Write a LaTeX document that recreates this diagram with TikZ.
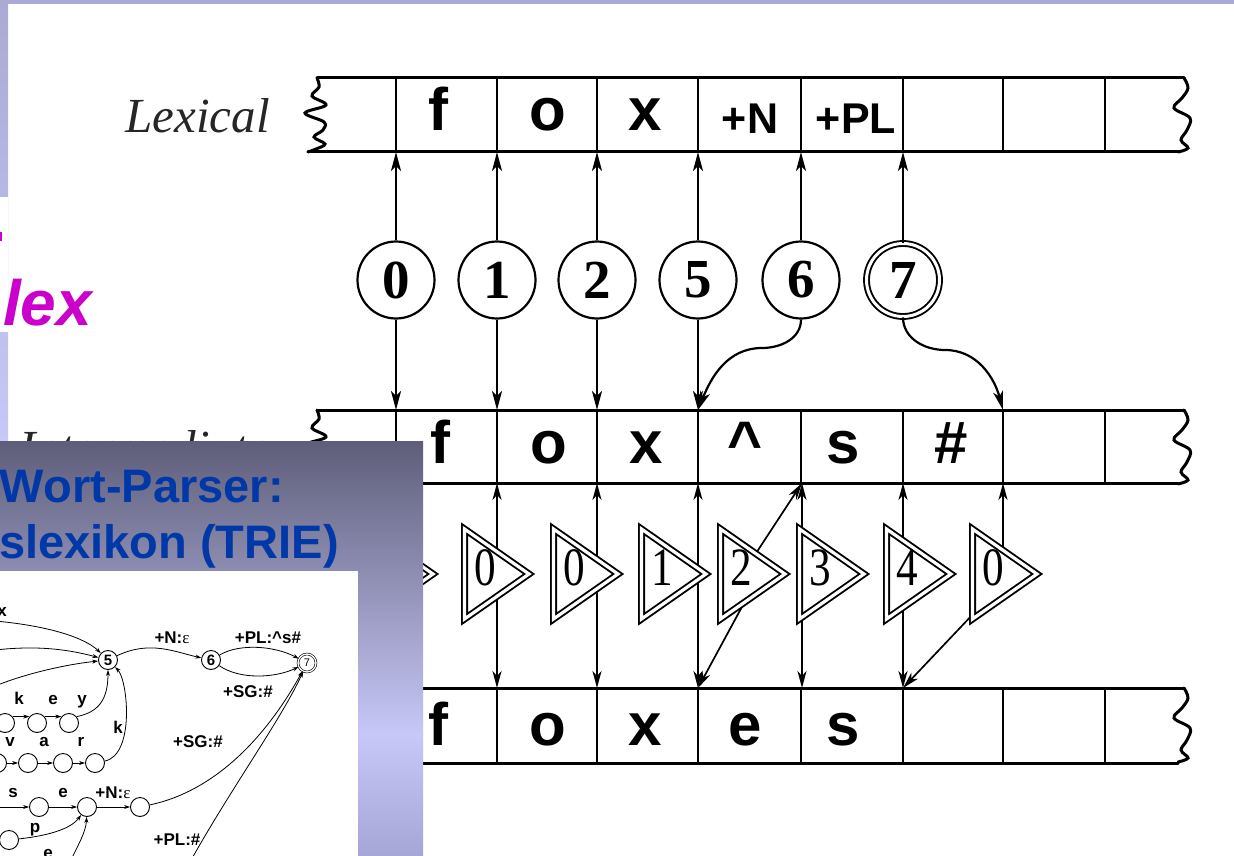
\documentclass[tikz,border=0pt]{standalone}
\usepackage{graphicx}
\usepackage{fontspec}
\setmainfont{Liberation Serif}
\setsansfont{Liberation Sans}
\usetikzlibrary{arrows.meta}
\definecolor{lavtop}{RGB}{170,170,212}
\definecolor{lavlight}{RGB}{200,200,248}
\definecolor{boxtop}{RGB}{94,94,122}
\definecolor{boxbot}{RGB}{166,166,214}
\definecolor{titleblue}{RGB}{0,56,168}
\definecolor{lexc}{RGB}{204,0,204}
\newcommand\narrowdig[1]{\scalebox{0.8}[1]{#1}}
\begin{document}
\begin{tikzpicture}[x=1pt,y=-1pt,
  tape/.style={line width=3pt,line cap=round},
  div/.style={line width=2.5pt},
  arr/.style={line width=2.2pt,-{Stealth[length=19pt,width=10pt,inset=5pt]}},
  tarr/.style={line width=1.7pt,-{Stealth[length=17pt,width=9pt,inset=5pt]}},
  st/.style={circle,draw,line width=2.2pt,minimum size=77pt,inner sep=0pt,fill=white,
    font=\fontsize{55}{55}\selectfont\bfseries},
  tri/.style={draw=black,line width=1.9pt,double=white,double distance=3.2pt,fill=white,line join=miter},
  tdig/.style={inner sep=0pt,font=\fontsize{54}{54}\selectfont},
  big/.style={inner sep=0pt,anchor=base,font=\fontsize{60}{60}\selectfont\sffamily\bfseries},
  mid/.style={inner sep=0pt,anchor=base,font=\fontsize{43}{43}\selectfont\sffamily\bfseries},
  tlab/.style={inner sep=0pt,anchor=base east,font=\fontsize{49}{49}\selectfont\itshape,text=black!85},
  tst/.style={circle,draw,line width=0.9pt,minimum size=19pt,inner sep=0pt,fill=white,
    font=\fontsize{15}{15}\selectfont\sffamily\bfseries},
  tl/.style={inner sep=0pt,font=\fontsize{17}{17}\selectfont\sffamily\bfseries},
  tar/.style={line width=0.8pt,-{Stealth[length=6pt,width=4pt]}}
]
\useasboundingbox (0,0) rectangle (1234,856);
\fill[white] (0,0) rectangle (1234,856);
% frame strips
\fill[lavtop] (0,0) rectangle (1234,4);
\shade[top color=lavtop,bottom color=lavlight] (0,0) rectangle (8,442);
\fill[white] (0,197) rectangle (8,332);
\fill[lexc] (0,232) rectangle (2,241);
\node[inner sep=0pt,anchor=base west,text=lexc,font=\fontsize{64}{64}\selectfont\sffamily\bfseries\itshape] (lex) at (3,325) {lex};

% ---- tapes ----
\foreach \t/\b in {78/152, 410/483, 688/763} {
  \draw[tape] (317,\t) -- (1184,\t);
  \draw[tape] (308,\b) -- (1178,\b);
  \foreach \x in {396,497,597,698,801,903,1003,1105} \draw[div] (\x,\t) -- (\x,\b);
  \draw[tape,shift={(317,\t)}] plot[smooth,tension=0.6] coordinates
    {(0,0) (2,9) (-5,18) (9,27) (-12,35) (7,44) (6,52) (-3,59) (8,66) (-1,71) (-9,74)};
  \draw[tape,shift={(1184,\t)}] plot[smooth,tension=0.6] coordinates
    {(0,0) (4,10) (-2,20) (-10,30) (6,40) (3,52) (-3,62) (4,70) (-6,74)};
}
\node[tlab] (lexlab) at (270,132) {Lexical};
\begin{scope}
\clip (0,0) rectangle (1234,441);
\node[tlab] (intlab) at (270,464) {Intermediate};
\end{scope}

% tape contents
\node[big] (l1) at (438,131) {f};
\node[big] (l2) at (548,131) {o};
\node[big] (l3) at (645,131) {x};
\node[mid] (l4) at (750,134) {+N};
\node[mid] (l5) at (856,134) {+PL};
\node[big] (i1) at (440,463) {f};
\node[big] (i2) at (549,463) {o};
\node[big] (i3) at (646,463) {x};
\node[big] (i4) at (745,463) {\textasciicircum};
\node[big] (i5) at (843,463) {s};
\node[big] (i6) at (951,463) {\#};
\node[big] (s1) at (438,745) {f};
\node[big] (s2) at (548,745) {o};
\node[big] (s3) at (645,745) {x};
\node[big] (s4) at (745,745) {e};
\node[big] (s5) at (843,745) {s};

% coordinates on tapes
\foreach \n/\x in {0/396,1/497,2/597,3/698,4/801,5/903,6/1003} {
  \coordinate (LB\n) at (\x,152);
  \coordinate (IT\n) at (\x,410);
  \coordinate (IB\n) at (\x,483);
  \coordinate (ST\n) at (\x,688);
}

% ---- lexicon states ----
\node[st] (c0) at (396,280) {0};
\node[st] (c1) at (497,280) {1};
\node[st] (c2) at (597,280) {2};
\node[st] (c5) at (698,280) {5};
\node[st] (c6) at (801,280) {6};
\node[st,double,double distance=3pt,line width=1.9pt,minimum size=73pt] (c7) at (903,280) {7};

\draw[arr] (c0) -- (LB0);
\draw[arr] (c1) -- (LB1);
\draw[arr] (c2) -- (LB2);
\draw[arr] (c5) -- (LB3);
\draw[arr] (c6) -- (LB4);
\draw[arr] (c7) -- (LB5);
\draw[arr] (c0) -- (IT0);
\draw[arr] (c1) -- (IT1);
\draw[arr] (c2) -- (IT2);
\draw[arr] (c5) -- (IT3);
\draw[arr] (c6.south) to[out=-90,in=0] (762,348) to[out=180,in=68] (IT3);
\draw[arr] (c7.south) to[out=-90,in=180] (945,350) to[out=0,in=105] (IT6);

% ---- rule transducer connectors ----
\coordinate (a1) at (497,574);
\coordinate (a2) at (597,574);
\coordinate (a3) at (698,574);
\coordinate (a4u) at (745,570);
\coordinate (a4d) at (750,592);
\coordinate (a5) at (802,574);
\coordinate (a6) at (903,574);
\coordinate (a7) at (1003,574);
\coordinate (a7d) at (975,612);
\coordinate (IB4b) at (802,483);
\coordinate (ST4b) at (802,688);
\draw[tarr] (a1) -- (IB1);
\draw[tarr] (a1) -- (ST1);
\draw[tarr] (a2) -- (IB2);
\draw[tarr] (a2) -- (ST2);
\draw[tarr] (a3) -- (IB3);
\draw[tarr] (a3) -- (ST3);
\draw[tarr] (a4u) -- (IB4b);
\draw[tarr] (a4d) -- (ST3);
\draw[tarr] (a5) -- (IB4b);
\draw[tarr] (a5) -- (ST4b);
\draw[tarr] (a6) -- (IB5);
\draw[tarr] (a6) -- (ST5);
\draw[tarr] (a7) -- (IB6);
\draw[tarr] (a7d) -- (ST5);

% triangles
\foreach \L/\d/\n in {365/0/t0, 461/0/t1, 550/0/t2, 638/1/t3, 717/2/t4, 796/3/t5, 883/4/t6, 969/0/t7} {
  \draw[tri] (\L+3.5,529) -- (\L+3.5,619) -- (\L+68,574) -- cycle;
  \node[tdig] (\n) at (\L+24,568) {\narrowdig{\d}};
}

% ---- overlay box ----
\shade[top color=boxtop,bottom color=lavlight] (0,441) rectangle (423,735);
\shade[top color=lavlight,bottom color=boxbot] (0,734) rectangle (423,856);
\node[inner sep=0pt,anchor=base east,text=titleblue,font=\fontsize{47}{47}\selectfont\sffamily\bfseries] (title1) at (284,502) {Wort-Parser:};
\node[inner sep=0pt,anchor=base west,text=titleblue,font=\fontsize{47}{47}\selectfont\sffamily\bfseries] (title2) at (-1,558) {slexikon (TRIE)};
\fill[white] (0,571) rectangle (358,856);

% ---- TRIE inset ----
\begin{scope}
\clip (0,571) rectangle (358,856);
\node[tst] (q5) at (108,660) {5};
\node[tst] (q6) at (211,660) {6};
\node[tst,double,double distance=1.3pt,line width=0.6pt,minimum size=18pt,font=\fontsize{11}{11}\selectfont\sffamily] (q7) at (307,663) {7};
\node[tst] (ka) at (5,723) {};
\node[tst] (kb) at (37,723) {};
\node[tst] (kc) at (69,723) {};
\node[tst] (va) at (-3,763) {};
\node[tst] (vb) at (28,763) {};
\node[tst] (vc) at (63,763) {};
\node[tst] (vd) at (95,763) {};
\node[tst] (sb) at (39,807) {};
\node[tst] (sc) at (87,807) {};
\node[tst] (sd) at (140,807) {};
\node[tst] (pp) at (9,840) {};
\coordinate (x1) at (-5,621);
\coordinate (x2) at (-5,650);
\coordinate (x3) at (-5,686);
\coordinate (sa) at (-5,807);
\coordinate (pl0) at (190,862);
\coordinate (e0) at (70,862);

\draw[tar] (x1) .. controls (50,626) and (85,638) .. (q5);
\draw[tar] (x2) .. controls (40,645) and (70,650) .. (q5);
\draw[tar] (x3) .. controls (30,672) and (70,664) .. (q5);
\draw[tar] (ka.40) -- (kb.140);
\draw[tar] (kb.40) -- (kc.140);
\draw[tar] (kc.40) .. controls (100,712) and (108,698) .. (q5);
\draw[tar] (va) -- (vb);
\draw[tar] (vb) -- (vc);
\draw[tar] (vc) -- (vd);
\draw[tar] (vd) .. controls (135,755) and (128,680) .. (q5);
\draw[tar] (q5) .. controls (150,640) and (175,652) .. (q6);
\draw[tar] (q6) .. controls (240,643) and (275,646) .. (q7);
\draw[tar] (q6) .. controls (240,680) and (275,678) .. (q7);
\draw[tar] (sa) -- (sb);
\draw[tar] (sb) -- (sc);
\draw[tar] (sc) -- (sd);
\draw[tar] (sd) .. controls (220,790) and (270,730) .. (q7);
\draw[tar] (pl0) .. controls (230,790) and (282,718) .. (q7);
\draw[tar] (pp) .. controls (45,836) and (70,830) .. (sc);
\draw[tar] (e0) .. controls (78,845) and (86,832) .. (sc);

\node[tl] (lx) at (2,612) {x};
\node[tl] (lk1) at (19,698) {k};
\node[tl] (le1) at (53,700) {e};
\node[tl] (ly) at (82,702) {y};
\node[tl] (lv) at (10,742) {v};
\node[tl] (la) at (44,742) {a};
\node[tl] (lr) at (81,742) {r};
\node[tl] (lk2) at (118,727) {k};
\node[tl] (ln1) at (172,638) {+N:{\rmfamily\mdseries ε}};
\node[tl] (lpl1) at (268,638) {+PL:\textasciicircum s\#};
\node[tl] (lsg1) at (248,692) {+SG:\#};
\node[tl] (lsg2) at (198,742) {+SG:\#};
\node[tl] (ls) at (13,793) {s};
\node[tl] (le2) at (63,793) {e};
\node[tl] (ln2) at (113,793) {+N:{\rmfamily\mdseries ε}};
\node[tl] (lp) at (35,830) {p};
\node[tl] (lpl2) at (177,840) {+PL:\#};
\node[tl] (le3) at (48,854) {e};
\end{scope}
\end{tikzpicture}
\end{document}
